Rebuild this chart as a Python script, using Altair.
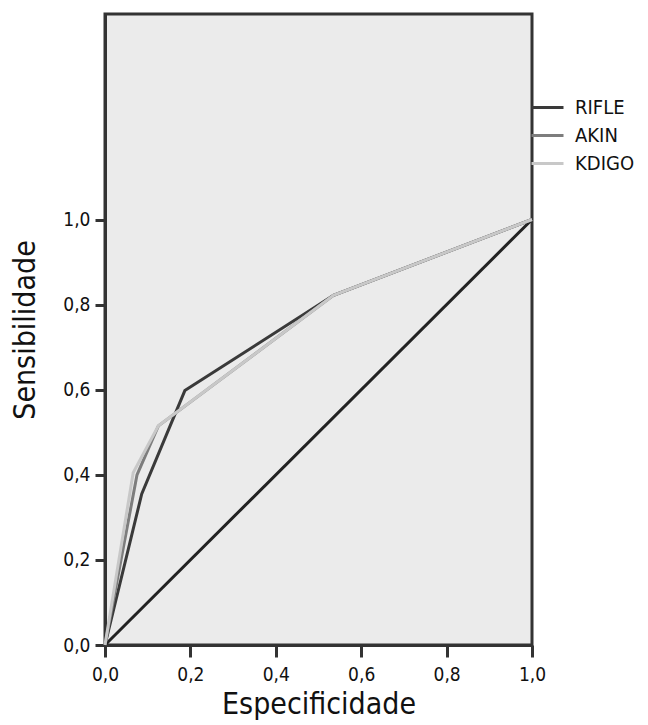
import altair as alt
import pandas as pd

categories = ["RIFLE", "AKIN", "KDIGO"]
rifle_x = [0.0, 0.086, 0.187, 0.535, 1.0]
rifle_y = [0.0, 0.355, 0.598, 0.822, 1.0]
akin_x = [0.0, 0.075, 0.125, 0.535, 1.0]
akin_y = [0.0, 0.400, 0.515, 0.822, 1.0]
kdigo_x = [0.0, 0.066, 0.125, 0.535, 1.0]
kdigo_y = [0.0, 0.405, 0.515, 0.822, 1.0]
ref_x = [0.0, 1.0]
ref_y = [0.0, 1.0]
colors = ["#3a3a3a", "#7d7d7d", "#c8c8c8"]
tick_values = [0.0, 0.2, 0.4, 0.6, 0.8, 1.0]

rows = []
for name, xs, ys in [("RIFLE", rifle_x, rifle_y), ("AKIN", akin_x, akin_y), ("KDIGO", kdigo_x, kdigo_y)]:
    for i, (a, b) in enumerate(zip(xs, ys)):
        rows.append({"serie": name, "esp": a, "sens": b, "i": i})
df = pd.DataFrame(rows)
ref = pd.DataFrame({"esp": ref_x, "sens": ref_y, "i": [0, 1]})

FONT = "Liberation Sans Narrow, DejaVu Sans Condensed, sans-serif"
label_expr = "replace(format(datum.value, '.1f'), '.', ',')"

xscale = alt.Scale(domain=[0, 1], nice=False, zero=False)
yscale = alt.Scale(domain=[0, 1.483], nice=False, zero=False)

xaxis = alt.Axis(values=tick_values, labelExpr=label_expr, title="Especificidade", grid=False,
                 tickSize=12, labelPadding=8, titlePadding=5, labelFlush=False)
yaxis = alt.Axis(values=tick_values, labelExpr=label_expr, title="Sensibilidade", grid=False,
                 tickSize=10, labelPadding=5, titlePadding=22, labelFlush=False)

lines = alt.Chart(df).mark_line(strokeWidth=3).encode(
    x=alt.X("esp:Q", scale=xscale, axis=xaxis),
    y=alt.Y("sens:Q", scale=yscale, axis=yaxis),
    color=alt.Color("serie:N", scale=alt.Scale(domain=categories, range=colors),
                    sort=categories,
                    legend=alt.Legend(title=None, orient="none", legendX=425, legendY=76,
                                      symbolType="stroke", symbolSize=1024, symbolStrokeWidth=3,
                                      labelFontSize=20, labelFont=FONT, labelColor="#111",
                                      rowPadding=-4, labelOffset=10)),
    order="i:Q",
)

diag = alt.Chart(ref).mark_line(strokeWidth=3, color="#222").encode(
    x=alt.X("esp:Q", scale=xscale),
    y=alt.Y("sens:Q", scale=yscale),
    order="i:Q",
)

chart = alt.layer(diag, lines).properties(
    width=427, height=631,
    autosize=alt.AutoSizeParams(type="none"),
    padding={"left": 97, "top": 6, "right": 108, "bottom": 80},
    background="white",
).configure_view(
    fill="#ebebeb", stroke="#333333", strokeWidth=3
).configure_axis(
    domainColor="#333333", domainWidth=3, tickColor="#333333", tickWidth=3,
    labelFont=FONT, labelFontSize=19, labelColor="#111",
    titleFont=FONT, titleFontSize=30, titleFontWeight="normal", titleColor="#111",
)

chart.save("out.html", embed_options={"renderer": "svg", "actions": False})
